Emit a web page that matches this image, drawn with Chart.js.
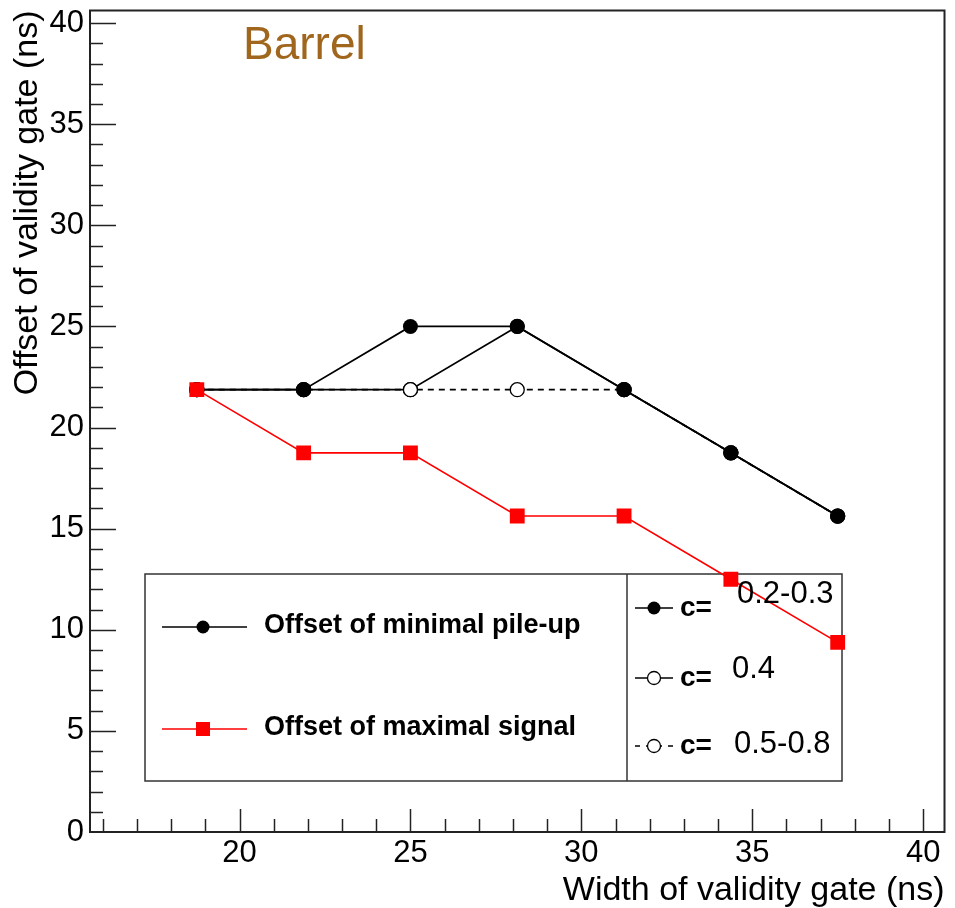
<!DOCTYPE html>
<html>
<head>
<meta charset="utf-8">
<script src="https://cdn.jsdelivr.net/npm/chart.js@4.4.1/dist/chart.umd.min.js"></script>
<style>
  html, body { margin: 0; padding: 0; background: #fff; }
  #wrap { width: 955px; height: 908px; }
</style>
</head>
<body>
<div id="wrap"><canvas id="grafico"></canvas></div>
<script>
// Ancho de la ventana de validez (ns)
const anchos = [18.75, 21.875, 25, 28.125, 31.25, 34.375, 37.5];

// Offset de mínimo pile-up según c
const offsetMinC023 = [21.875, 21.875, 25, 25, 21.875, 18.75, 15.625];
const offsetMinC04 = [21.875, 21.875, 21.875, 25, 21.875, 18.75, 15.625];
const offsetMinC058 = [21.875, 21.875, 21.875, 21.875, 21.875, 18.75, 15.625];

// Offset de máxima señal
const offsetMaxSenal = [21.875, 18.75, 18.75, 15.625, 15.625, 12.5, 9.375];

// Marcas de los ejes
const ticksX = [20, 25, 30, 35, 40];
const ticksY = [0, 5, 10, 15, 20, 25, 30, 35, 40];

const etiquetasC = ['0.2-0.3', '0.4', '0.5-0.8'];

const puntos = (ys) => anchos.map((x, i) => ({ x: x, y: ys[i] }));

// Marco y marcas de los ejes hacia dentro
const marcoEjes = {
  id: 'marcoEjes',
  beforeDatasetsDraw(chart) {
    const { ctx, chartArea: a, scales } = chart;
    ctx.save();
    ctx.strokeStyle = '#222';
    ctx.lineWidth = 1.5;
    for (let v = 16; v <= 40; v++) {
      const px = Math.round(scales.x.getPixelForValue(v)) + 0.5;
      const len = v % 5 === 0 ? 23 : 13;
      ctx.beginPath();
      ctx.moveTo(px, a.bottom);
      ctx.lineTo(px, a.bottom - len);
      ctx.stroke();
    }
    for (let v = 1; v <= 40; v++) {
      const py = Math.round(scales.y.getPixelForValue(v)) + 0.5;
      const len = v % 5 === 0 ? 26 : 13;
      ctx.beginPath();
      ctx.moveTo(a.left, py);
      ctx.lineTo(a.left + len, py);
      ctx.stroke();
    }
    ctx.lineWidth = 2;
    ctx.strokeRect(a.left, a.top, a.right - a.left, a.bottom - a.top);

    ctx.fillStyle = '#a0661e';
    ctx.font = '46px "Liberation Sans", Arial, sans-serif';
    ctx.textBaseline = 'alphabetic';
    ctx.textAlign = 'left';
    ctx.fillText('Barrel', 243, 59);
    ctx.restore();
  }
};

function marcador(ctx, tipo, x, y) {
  ctx.save();
  if (tipo === 'lleno') {
    ctx.fillStyle = '#000';
    ctx.beginPath(); ctx.arc(x, y, 6.5, 0, Math.PI * 2); ctx.fill();
  } else if (tipo === 'hueco') {
    ctx.fillStyle = '#fff';
    ctx.strokeStyle = '#000';
    ctx.lineWidth = 1.3;
    ctx.beginPath(); ctx.arc(x, y, 6.5, 0, Math.PI * 2); ctx.fill(); ctx.stroke();
  } else {
    ctx.fillStyle = '#ff0000';
    ctx.fillRect(x - 7, y - 7, 14, 14);
  }
  ctx.restore();
}

// Leyenda con dos columnas
const leyenda = {
  id: 'leyenda',
  beforeDatasetsDraw(chart) {
    const ctx = chart.ctx;
    ctx.save();
    ctx.fillStyle = '#fff';
    ctx.fillRect(145, 574, 697, 207);
    ctx.strokeStyle = '#333';
    ctx.lineWidth = 1.5;
    ctx.strokeRect(145, 574, 697, 207);
    ctx.beginPath(); ctx.moveTo(627, 574); ctx.lineTo(627, 781); ctx.stroke();

    ctx.lineWidth = 1.5;
    ctx.strokeStyle = '#000';
    ctx.beginPath(); ctx.moveTo(162, 627); ctx.lineTo(247, 627); ctx.stroke();
    marcador(ctx, 'lleno', 203, 627);
    ctx.strokeStyle = '#ff0000';
    ctx.beginPath(); ctx.moveTo(162, 729); ctx.lineTo(247, 729); ctx.stroke();
    marcador(ctx, 'cuadro', 203, 729);

    ctx.fillStyle = '#000';
    ctx.font = 'bold 27px "Liberation Sans", Arial, sans-serif';
    ctx.textBaseline = 'middle';
    ctx.fillText('Offset of minimal pile-up', 264, 626);
    ctx.fillText('Offset of maximal signal', 264, 728);

    const filas = [608, 678, 746];
    ctx.strokeStyle = '#000';
    ctx.lineWidth = 1.3;
    ctx.beginPath(); ctx.moveTo(635, filas[0]); ctx.lineTo(673, filas[0]); ctx.stroke();
    marcador(ctx, 'lleno', 654, filas[0]);
    ctx.beginPath(); ctx.moveTo(635, filas[1]); ctx.lineTo(673, filas[1]); ctx.stroke();
    marcador(ctx, 'hueco', 654, filas[1]);
    ctx.setLineDash([5, 6]);
    ctx.beginPath(); ctx.moveTo(635, filas[2]); ctx.lineTo(673, filas[2]); ctx.stroke();
    ctx.setLineDash([]);
    marcador(ctx, 'hueco', 654, filas[2]);

    ctx.fillStyle = '#000';
    ctx.font = 'bold 28px "Liberation Sans", Arial, sans-serif';
    filas.forEach(f => ctx.fillText('c=', 680, f));
    ctx.restore();
  },
  afterDatasetsDraw(chart) {
    const ctx = chart.ctx;
    ctx.save();
    ctx.fillStyle = '#000';
    ctx.font = '31px "Liberation Sans", Arial, sans-serif';
    ctx.textBaseline = 'middle';
    ctx.fillText(etiquetasC[0], 737, 594);
    ctx.fillText(etiquetasC[1], 732, 669);
    ctx.fillText(etiquetasC[2], 734, 744);
    ctx.restore();
  }
};

const fuenteEje = { family: '"Liberation Sans", Arial, sans-serif', size: 31 };
const fuenteTitulo = { family: '"Liberation Sans", Arial, sans-serif', size: 34, lineHeight: 1.0 };

// Sin relleno extra de las escalas: el área del gráfico queda fija
function sinRelleno(eje) {
  eje.paddingTop = 0;
  eje.paddingBottom = 0;
  eje.paddingLeft = 0;
  eje.paddingRight = 0;
}

const datos = {
  datasets: [
    {
      label: 'Offset of maximal signal',
      data: puntos(offsetMaxSenal),
      borderColor: '#ff0000',
      backgroundColor: '#ff0000',
      borderWidth: 1.6,
      pointStyle: 'rect',
      pointRadius: 10.5,
      pointBorderWidth: 0
    },
    {
      label: 'c= ' + etiquetasC[0],
      data: puntos(offsetMinC023),
      borderColor: '#000',
      backgroundColor: '#000',
      borderWidth: 1.8,
      pointStyle: 'circle',
      pointRadius: 7.5,
      pointBorderWidth: 0
    },
    {
      label: 'c= ' + etiquetasC[1],
      data: puntos(offsetMinC04),
      borderColor: '#000',
      backgroundColor: '#fff',
      borderWidth: 1.8,
      pointStyle: 'circle',
      pointRadius: 7,
      pointBorderWidth: 1.3
    },
    {
      label: 'c= ' + etiquetasC[2],
      data: puntos(offsetMinC058),
      borderColor: '#000',
      backgroundColor: '#fff',
      borderWidth: 1.8,
      borderDash: [6, 5],
      pointStyle: 'circle',
      pointRadius: 7,
      pointBorderWidth: 1.3
    }
  ]
};

const config = {
  type: 'scatter',
  data: datos,
  options: {
    responsive: false,
    animation: false,
    showLine: true,
    layout: { padding: { top: 8, right: 6, left: 0, bottom: 0 } },
    plugins: {
      legend: { display: false },
      tooltip: { enabled: false }
    },
    scales: {
      x: {
        type: 'linear',
        min: 15.625,
        max: 40.625,
        grid: { display: false, drawTicks: false },
        border: { display: false },
        afterBuildTicks: (eje) => { eje.ticks = ticksX.map(v => ({ value: v })); },
        afterFit: (eje) => { eje.height = 76; sinRelleno(eje); },
        ticks: { color: '#000', font: fuenteEje, padding: 3, maxRotation: 0, autoSkip: false },
        title: {
          display: true,
          text: 'Width of validity gate (ns)',
          align: 'end',
          color: '#000',
          font: fuenteTitulo,
          padding: { top: 0, bottom: 0 }
        }
      },
      y: {
        type: 'linear',
        min: 0,
        max: 40.625,
        grid: { display: false, drawTicks: false },
        border: { display: false },
        afterBuildTicks: (eje) => { eje.ticks = ticksY.map(v => ({ value: v })); },
        afterFit: (eje) => { eje.width = 90; sinRelleno(eje); },
        ticks: { color: '#000', font: fuenteEje, padding: 6, autoSkip: false },
        title: {
          display: true,
          text: 'Offset of validity gate (ns)',
          align: 'end',
          color: '#000',
          font: fuenteTitulo,
          padding: { top: 11, bottom: 0 }
        }
      }
    }
  },
  plugins: [marcoEjes, leyenda]
};

const lienzo = document.getElementById('grafico');
lienzo.width = 955;
lienzo.height = 908;
new Chart(lienzo.getContext('2d'), config);
</script>
</body>
</html>
